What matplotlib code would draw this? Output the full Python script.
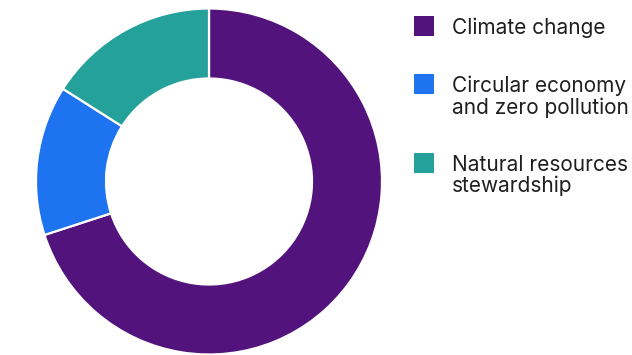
import matplotlib
matplotlib.use("Agg")
import matplotlib.pyplot as plt
from matplotlib.patches import Rectangle

# Share of activity by environmental objective
categories = ["Climate change", "Circular economy\nand zero pollution", "Natural resources\nstewardship"]
shares = [70, 14, 16]
colors = ["#52137C", "#1E74F0", "#25A19B"]

W, H = 632, 355
fig = plt.figure(figsize=(W / 100, H / 100), dpi=100)
ax = fig.add_axes([0, 0, 1, 1])

outer_r = 173
ring_w = 70
ax.pie(shares, colors=colors, startangle=90, counterclock=False,
       center=(209, H - 181.5), radius=outer_r,
       wedgeprops=dict(width=ring_w, edgecolor="white", linewidth=1.6))

# Legend: colour swatch plus label (pixel coordinates, y up)
legend_y = [26, 84, 163]
for cat, col, yc in zip(categories, colors, legend_y):
    ax.add_patch(Rectangle((413.5, H - yc - 10), 20, 20, facecolor=col, edgecolor="none"))
    ax.text(451.5, H - yc + 8, cat, fontsize=15, family="Inter", color="#1f1f1f",
            va="top", ha="left", linespacing=1.05)

ax.set_xlim(0, W)
ax.set_ylim(0, H)
ax.set_aspect("equal")
ax.axis("off")

fig.savefig("out.png", dpi=100)
